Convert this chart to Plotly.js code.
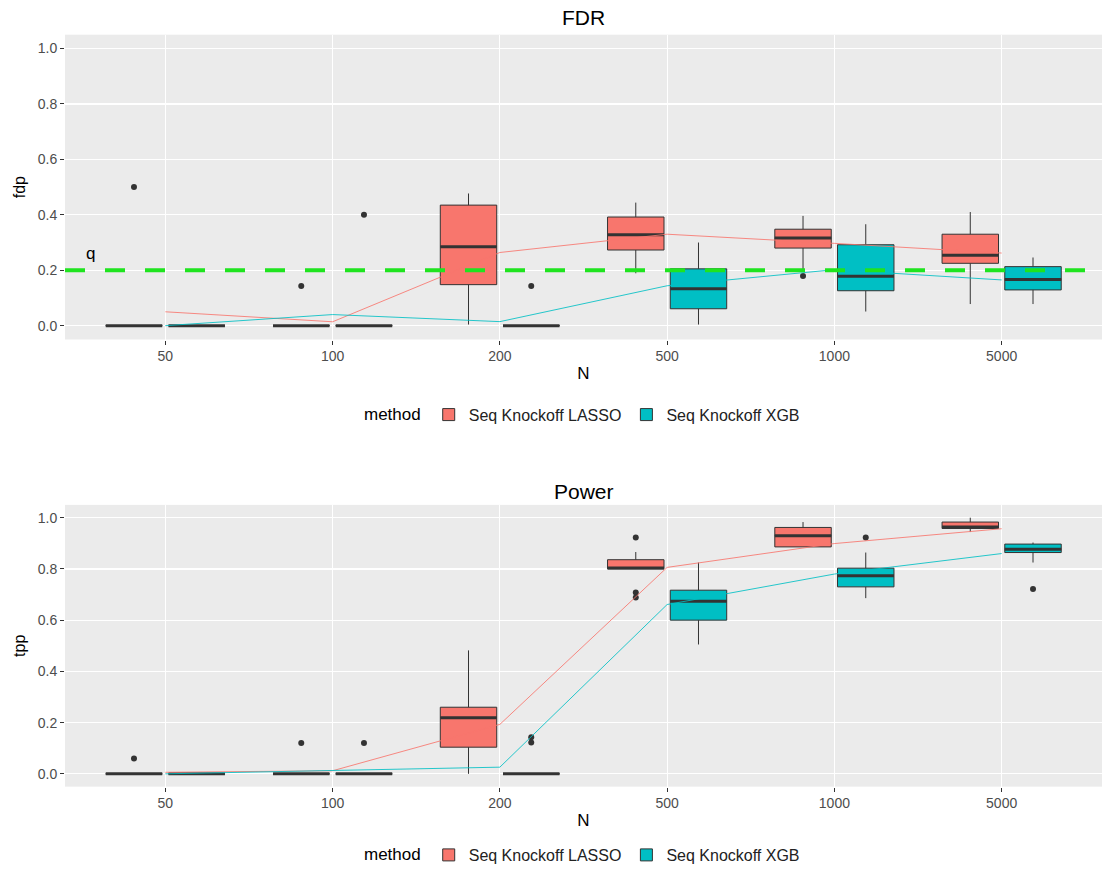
<!DOCTYPE html>
<html>
<head>
<meta charset="utf-8">
<script src="https://cdn.plot.ly/plotly-3.0.1.min.js"></script>
<style>html,body{margin:0;padding:0;background:#fff;}#chart{width:1102px;height:872px;}</style>
</head>
<body>
<div id="chart"></div>
<script>
// ---------- data ----------
const categories = ['50', '100', '200', '500', '1000', '5000'];
const methods = ['Seq Knockoff LASSO', 'Seq Knockoff XGB'];

// FDR panel (fdp) - Seq Knockoff LASSO
const fdrLassoQ1     = [0, 0, 0.148, 0.273, 0.280, 0.225];
const fdrLassoMedian = [0, 0, 0.285, 0.328, 0.316, 0.254];
const fdrLassoQ3     = [0, 0, 0.435, 0.392, 0.348, 0.330];
const fdrLassoLower  = [0, 0, 0.004, 0.189, 0.201, 0.078];
const fdrLassoUpper  = [0, 0, 0.477, 0.444, 0.396, 0.410];
const fdrLassoMean   = [0.05, 0.014, 0.264, 0.330, 0.297, 0.262];
const fdrLassoOutN   = ['50', '100', '1000'];
const fdrLassoOutV   = [0.5, 0.143, 0.179];

// FDR panel (fdp) - Seq Knockoff XGB
const fdrXgbQ1     = [0, 0, 0, 0.061, 0.126, 0.129];
const fdrXgbMedian = [0, 0, 0, 0.133, 0.178, 0.167];
const fdrXgbQ3     = [0, 0, 0, 0.205, 0.292, 0.213];
const fdrXgbLower  = [0, 0, 0, 0.004, 0.051, 0.078];
const fdrXgbUpper  = [0, 0, 0, 0.300, 0.366, 0.246];
const fdrXgbMean   = [0, 0.040, 0.0145, 0.144, 0.202, 0.165];
const fdrXgbOutN   = ['100', '200'];
const fdrXgbOutV   = [0.4, 0.143];

// Power panel (tpp) - Seq Knockoff LASSO
const powLassoQ1     = [0, 0, 0.104, 0.800, 0.886, 0.958];
const powLassoMedian = [0, 0, 0.219, 0.804, 0.930, 0.964];
const powLassoQ3     = [0, 0, 0.260, 0.836, 0.962, 0.983];
const powLassoLower  = [0, 0, 0, 0.800, 0.886, 0.944];
const powLassoUpper  = [0, 0, 0.482, 0.866, 0.983, 1.0];
const powLassoMean   = [0.006, 0.012, 0.193, 0.806, 0.899, 0.957];
const powLassoOutN   = ['50', '100', '500', '500', '500'];
const powLassoOutV   = [0.06, 0.12, 0.923, 0.708, 0.688];

// Power panel (tpp) - Seq Knockoff XGB
const powXgbQ1     = [0, 0, 0, 0.600, 0.730, 0.864];
const powXgbMedian = [0, 0, 0, 0.674, 0.773, 0.877];
const powXgbQ3     = [0, 0, 0, 0.717, 0.803, 0.897];
const powXgbLower  = [0, 0, 0, 0.505, 0.686, 0.825];
const powXgbUpper  = [0, 0, 0, 0.825, 0.864, 0.903];
const powXgbMean   = [0, 0.012, 0.026, 0.661, 0.780, 0.860];
const powXgbOutN   = ['100', '200', '200', '1000', '5000'];
const powXgbOutV   = [0.12, 0.143, 0.122, 0.923, 0.722];

const qLevel = 0.2;

// ---------- styling ----------
const colors = ['#F8766D', '#00BFC4'];
const dodge = [-0.1875, 0.1875];
const boxW = 0.3375;
const FONT = 'Liberation Sans, Arial, sans-serif';

function catPos(c) { return categories.indexOf(c) + 1; }

function boxGroup(m, xa, ya, leg, q1, med, q3, lo, hi, mean, outN, outV) {
  const xs = categories.map(c => catPos(c) + dodge[m]);
  const traces = [];
  traces.push({
    type: 'box', name: methods[m], x: xs, q1: q1, median: med, q3: q3,
    lowerfence: lo, upperfence: hi, width: boxW, whiskerwidth: 0,
    boxpoints: false, fillcolor: colors[m], line: {color: '#333333', width: 1},
    xaxis: xa, yaxis: ya, legend: leg, showlegend: true, hoverinfo: 'skip'
  });
  // thick median bars
  const mx = [], my = [];
  xs.forEach((x, i) => { mx.push(x - boxW / 2, x + boxW / 2, null); my.push(med[i], med[i], null); });
  traces.push({type: 'scatter', mode: 'lines', x: mx, y: my, xaxis: xa, yaxis: ya,
    line: {color: '#333333', width: 3}, showlegend: false, hoverinfo: 'skip'});
  // outliers
  traces.push({type: 'scatter', mode: 'markers', x: outN.map(c => catPos(c) + dodge[m]), y: outV,
    xaxis: xa, yaxis: ya, marker: {color: '#333333', size: 6}, showlegend: false, hoverinfo: 'skip'});
  return {traces: traces, mean: {type: 'scatter', mode: 'lines', x: categories.map(catPos), y: mean,
    xaxis: xa, yaxis: ya, line: {color: colors[m], width: 1}, opacity: 0.85, showlegend: false, hoverinfo: 'skip'}};
}

const g1 = boxGroup(0, 'x', 'y', 'legend', fdrLassoQ1, fdrLassoMedian, fdrLassoQ3, fdrLassoLower, fdrLassoUpper, fdrLassoMean, fdrLassoOutN, fdrLassoOutV);
const g2 = boxGroup(1, 'x', 'y', 'legend', fdrXgbQ1, fdrXgbMedian, fdrXgbQ3, fdrXgbLower, fdrXgbUpper, fdrXgbMean, fdrXgbOutN, fdrXgbOutV);
const g3 = boxGroup(0, 'x2', 'y2', 'legend2', powLassoQ1, powLassoMedian, powLassoQ3, powLassoLower, powLassoUpper, powLassoMean, powLassoOutN, powLassoOutV);
const g4 = boxGroup(1, 'x2', 'y2', 'legend2', powXgbQ1, powXgbMedian, powXgbQ3, powXgbLower, powXgbUpper, powXgbMean, powXgbOutN, powXgbOutV);

const data = [].concat(g1.traces, g2.traces, [g1.mean, g2.mean], g3.traces, g4.traces, [g3.mean, g4.mean]);

function xAxis(anchor) {
  return {
    anchor: anchor, domain: [0, 1], range: [0.4, 6.6], tickmode: 'array',
    tickvals: categories.map(catPos), ticktext: categories,
    showgrid: true, gridcolor: '#ffffff', gridwidth: 1.2, zeroline: false,
    ticks: 'outside', ticklen: 4, tickcolor: '#333333', showline: false,
    tickfont: {family: FONT, size: 14, color: '#4D4D4D'},
    title: {text: 'N', font: {family: FONT, size: 17, color: '#000'}, standoff: 3},
    automargin: false, fixedrange: true
  };
}
function yAxis(anchor, dom, title) {
  return {
    anchor: anchor, domain: dom, range: [-0.05, 1.05], tickvals: [0, 0.2, 0.4, 0.6, 0.8, 1.0],
    tickformat: '.1f', showgrid: true, gridcolor: '#ffffff', gridwidth: 1.2, zeroline: false,
    ticks: 'outside', ticklen: 4, tickcolor: '#333333',
    tickfont: {family: FONT, size: 14, color: '#4D4D4D'},
    title: {text: title, font: {family: FONT, size: 16, color: '#000'}, standoff: 8},
    automargin: false, fixedrange: true
  };
}
function legendCfg(y) {
  return {
    orientation: 'h', x: 0.5, xanchor: 'center', y: y, yanchor: 'middle',
    title: {text: 'method', font: {family: FONT, size: 17, color: '#000'}, side: 'left'},
    font: {family: FONT, size: 16, color: '#222'}, bgcolor: 'rgba(0,0,0,0)'
  };
}

const layout = {
  width: 1102, height: 872,
  margin: {l: 65, r: 0, t: 0, b: 0},
  paper_bgcolor: '#ffffff', plot_bgcolor: '#EBEBEB',
  boxmode: 'overlay', showlegend: true,
  font: {family: FONT},
  xaxis: xAxis('y'), yaxis: yAxis('x', [0.6075, 0.9599], 'fdp'),
  xaxis2: xAxis('y2'), yaxis2: yAxis('x2', [0.0906, 0.4163], 'tpp'),
  legend: legendCfg(0.5206), legend2: legendCfg(0.0115),
  shapes: [{
    type: 'line', xref: 'x domain', yref: 'y', x0: 0, x1: 1, y0: qLevel, y1: qLevel,
    line: {color: '#1FE41F', width: 4, dash: '20px,20px'}, layer: 'above'
  }],
  annotations: [
    {text: 'FDR', xref: 'paper', yref: 'paper', x: 0.5, y: 1 - 18 / 872, xanchor: 'center', yanchor: 'middle',
      showarrow: false, font: {family: FONT, size: 21, color: '#000'}},
    {text: 'Power', xref: 'paper', yref: 'paper', x: 0.5, y: 1 - 495 / 872, xanchor: 'center', yanchor: 'middle',
      showarrow: false, font: {family: FONT, size: 21, color: '#000'}},
    {text: 'q', xref: 'x', yref: 'y', x: 0.55, y: 0.26, xanchor: 'center', yanchor: 'middle',
      showarrow: false, font: {family: FONT, size: 17, color: '#000'}}
  ]
};

Plotly.newPlot('chart', data, layout, {displayModeBar: false, staticPlot: true});
</script>
</body>
</html>
